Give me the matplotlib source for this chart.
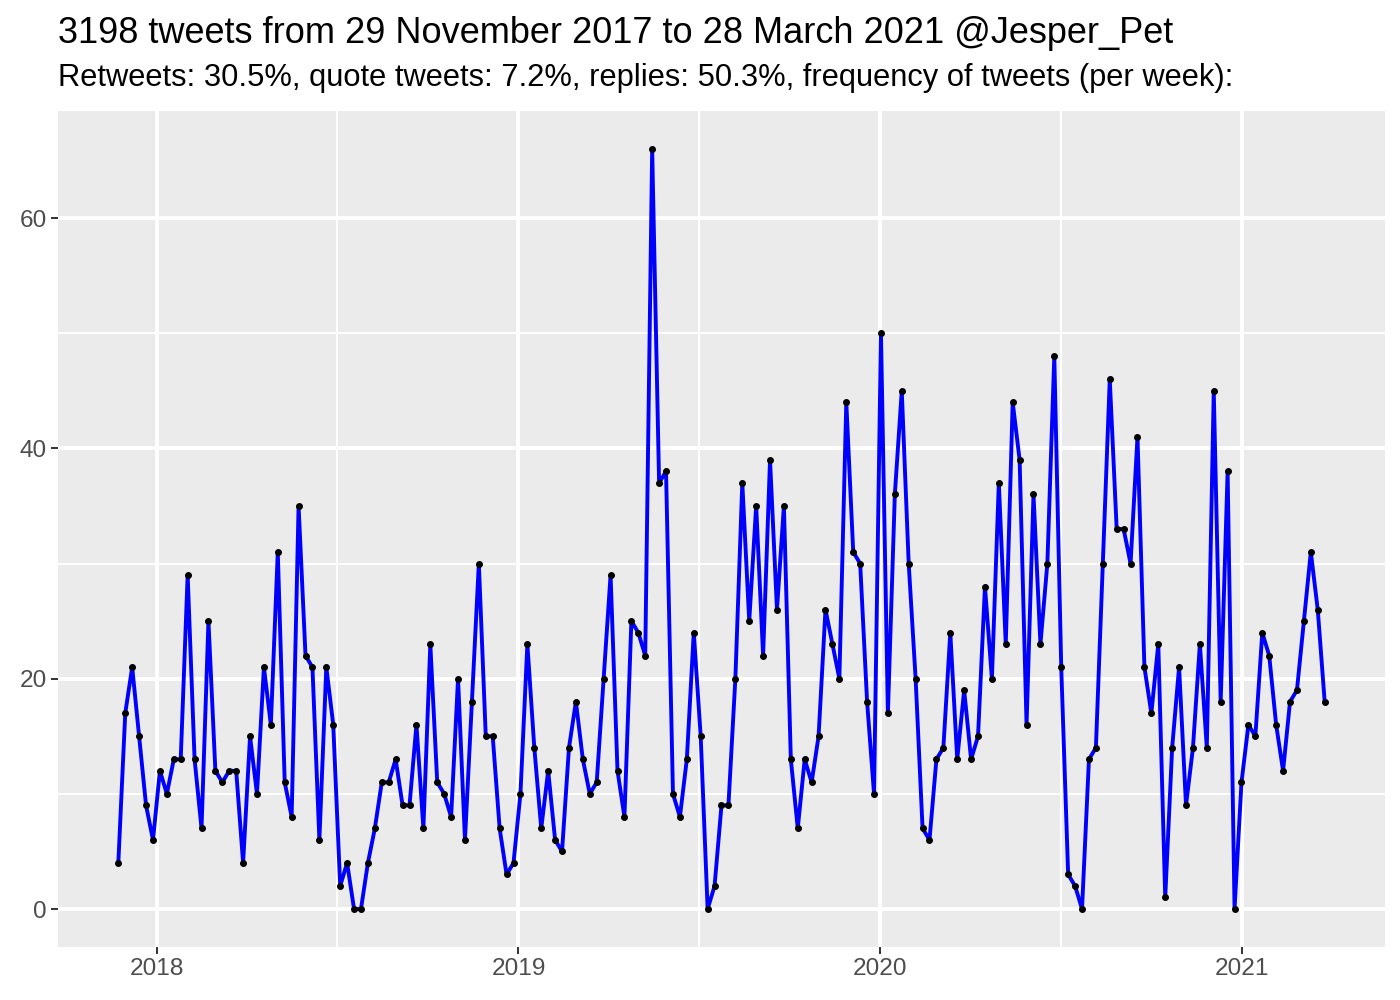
import numpy as np
import pandas as pd
import matplotlib
matplotlib.use("Agg")
import matplotlib.pyplot as plt
import matplotlib.dates as mdates

plt.rcParams['font.family'] = ['Liberation Sans', 'DejaVu Sans']

title = "3198 tweets from 29 November 2017 to 28 March 2021 @Jesper_Pet"
subtitle = "Retweets: 30.5%, quote tweets: 7.2%, replies: 50.3%, frequency of tweets (per week):"

week_start = "2017-11-23"
tweets_per_week = [
    4, 17, 21, 15, 9, 6, 12, 10, 13, 13,
    29, 13, 7, 25, 12, 11, 12, 12, 4, 15,
    10, 21, 16, 31, 11, 8, 35, 22, 21, 6,
    21, 16, 2, 4, 0, 0, 4, 7, 11, 11,
    13, 9, 9, 16, 7, 23, 11, 10, 8, 20,
    6, 18, 30, 15, 15, 7, 3, 4, 10, 23,
    14, 7, 12, 6, 5, 14, 18, 13, 10, 11,
    20, 29, 12, 8, 25, 24, 22, 66, 37, 38,
    10, 8, 13, 24, 15, 0, 2, 9, 9, 20,
    37, 25, 35, 22, 39, 26, 35, 13, 7, 13,
    11, 15, 26, 23, 20, 44, 31, 30, 18, 10,
    50, 17, 36, 45, 30, 20, 7, 6, 13, 14,
    24, 13, 19, 13, 15, 28, 20, 37, 23, 44,
    39, 16, 36, 23, 30, 48, 21, 3, 2, 0,
    13, 14, 30, 46, 33, 33, 30, 41, 21, 17,
    23, 1, 14, 21, 9, 14, 23, 14, 45, 18,
    38, 0, 11, 16, 15, 24, 22, 16, 12, 18,
    19, 25, 31, 26, 18,
]
dates = pd.date_range(week_start, periods=len(tweets_per_week), freq="7D")

y_major = [0, 20, 40, 60]
y_minor = [10, 30, 50]
x_major = ["2018-01-01", "2019-01-01", "2020-01-01", "2021-01-01"]
x_labels = ["2018", "2019", "2020", "2021"]
x_minor = ["2018-07-02", "2019-07-02", "2020-07-02"]

fig = plt.figure(figsize=(14, 10), dpi=100)
ax = fig.add_axes([58/1400, 53/1000, (1385-58)/1400, (947-111)/1000])
ax.set_facecolor("#EBEBEB")
for s in ax.spines.values():
    s.set_visible(False)

xd = mdates.date2num(dates)
xmin, xmax = xd.min(), xd.max()
pad = (xmax - xmin) * 0.05
ax.set_xlim(xmin - pad, xmax + pad)
ymax = max(tweets_per_week)
ax.set_ylim(-ymax * 0.05, ymax * 1.05)

ax.set_yticks(y_major)
ax.set_yticks(y_minor, minor=True)
ax.set_yticklabels([str(v) for v in y_major])
xm = mdates.date2num(pd.to_datetime(x_major))
ax.set_xticks(xm)
ax.set_xticklabels(x_labels)
ax.set_xticks(mdates.date2num(pd.to_datetime(x_minor)), minor=True)

ax.grid(which="major", color="white", linewidth=2.8)
ax.grid(which="minor", color="white", linewidth=1.4)
ax.set_axisbelow(True)
ax.tick_params(which="major", length=5, width=1.4, color="#333333",
               labelcolor="#4D4D4D", labelsize=17.6, pad=3)
ax.tick_params(which="minor", length=0)

ax.plot(xd, tweets_per_week, color="#0000FF", linewidth=2.8, zorder=3)
ax.plot(xd, tweets_per_week, linestyle="none", marker="o", markersize=4,
        color="black", zorder=4)

fig.text(58/1400, 1 - 43/1000, title, fontsize=26.0, color="black", va="baseline", ha="left")
fig.text(58/1400, 1 - 86/1000, subtitle, fontsize=22.25, color="black", va="baseline", ha="left")

fig.savefig("out.png", dpi=100)
